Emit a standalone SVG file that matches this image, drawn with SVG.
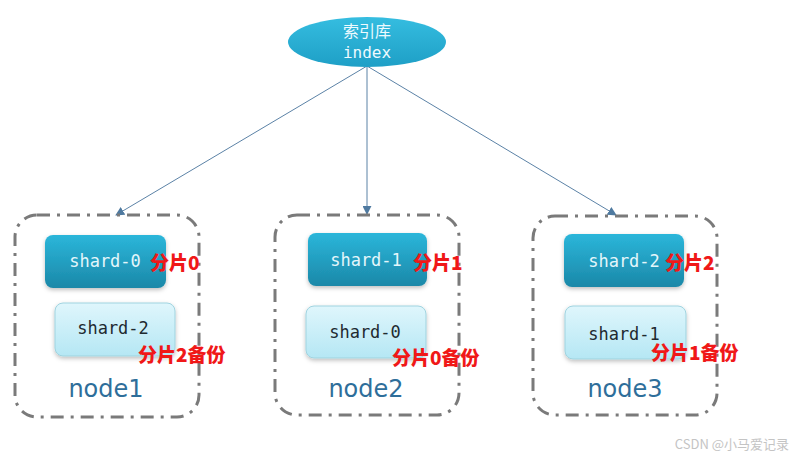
<svg xmlns="http://www.w3.org/2000/svg" width="798" height="458" viewBox="0 0 798 458">
<defs>
<linearGradient id="gEll" x1="0" y1="0" x2="0" y2="1"><stop offset="0" stop-color="#35bde0"/><stop offset="1" stop-color="#1e9fc6"/></linearGradient>
<linearGradient id="gDark" x1="0" y1="0" x2="0" y2="1"><stop offset="0" stop-color="#2bb6da"/><stop offset="1" stop-color="#1b88a8"/></linearGradient>
<linearGradient id="gLight" x1="0" y1="0" x2="0" y2="1"><stop offset="0" stop-color="#dff6fc"/><stop offset="1" stop-color="#b5e7f4"/></linearGradient>
<filter id="sh" x="-10%" y="-10%" width="130%" height="140%"><feDropShadow dx="0" dy="2" stdDeviation="2" flood-color="#000" flood-opacity="0.25"/></filter>
<marker id="ah" viewBox="0 0 10 10" refX="9" refY="5" markerWidth="9" markerHeight="9" orient="auto-start-reverse" markerUnits="userSpaceOnUse"><path d="M0,0 L10,5 L0,10 z" fill="#4f7aa0"/></marker>
</defs>
<style>
.box{fill:none;stroke:#7a7a7a;stroke-width:3;stroke-dasharray:13 7 3 7}
.dark{fill:url(#gDark);filter:url(#sh)}
.light{fill:url(#gLight);stroke:#9fd3df;stroke-width:1;filter:url(#sh)}
.mono{font-family:"DejaVu Sans Mono","Liberation Mono",monospace;font-size:17px;text-anchor:middle}
.dt{fill:#e4f6fb}
.lt{fill:#1e2a30}
.red{font-family:"Noto Sans CJK SC","Noto Sans",sans-serif;font-weight:900;font-size:19px;fill:#f01818}
.nl{font-family:"DejaVu Sans","Noto Sans",sans-serif;font-size:24px;fill:#2e6e9a;text-anchor:middle}
.conn{stroke:#5b82a6;stroke-width:1;fill:none}
</style>
<g id="connectors">
<line class="conn" x1="367" y1="66" x2="116" y2="215" marker-end="url(#ah)"/>
<line class="conn" x1="367" y1="67" x2="367" y2="214" marker-end="url(#ah)"/>
<line class="conn" x1="367" y1="66" x2="616" y2="215" marker-end="url(#ah)"/>
</g>
<g id="index">
<ellipse cx="367" cy="42" rx="79" ry="25" fill="url(#gEll)"/>
<text x="367" y="37" text-anchor="middle" font-family="Noto Sans CJK SC,sans-serif" font-size="16" fill="#eefaff">索引库</text>
<text x="367" y="58" text-anchor="middle" font-family="DejaVu Sans Mono,monospace" font-size="16" fill="#eefaff">index</text>
</g>
<g id="node1">
<rect class="box" x="15" y="215" width="184" height="202" rx="22"/>
<rect class="dark" x="45" y="235" width="121" height="53" rx="8"/>
<text class="mono dt" x="105" y="267">shard-0</text>
<rect class="light" x="55" y="303" width="120" height="53" rx="8"/>
<text class="mono lt" x="113" y="334">shard-2</text>
<text class="red" x="150" y="270">分片0</text>
<text class="red" x="138" y="362">分片2备份</text>
<text class="nl" x="106" y="397">node1</text>
</g>
<g id="node2">
<rect class="box" x="275" y="215" width="184" height="200" rx="22"/>
<rect class="dark" x="308" y="233" width="119" height="53" rx="8"/>
<text class="mono dt" x="366" y="266">shard-1</text>
<rect class="light" x="306" y="306" width="120" height="52" rx="8"/>
<text class="mono lt" x="365" y="338">shard-0</text>
<text class="red" x="413" y="270">分片1</text>
<text class="red" x="392" y="365">分片0备份</text>
<text class="nl" x="366" y="397">node2</text>
</g>
<g id="node3">
<rect class="box" x="533" y="216" width="184" height="199" rx="22"/>
<rect class="dark" x="564" y="234" width="120" height="53" rx="8"/>
<text class="mono dt" x="624" y="267">shard-2</text>
<rect class="light" x="565" y="306" width="121" height="53" rx="8"/>
<text class="mono lt" x="624" y="340">shard-1</text>
<text class="red" x="665" y="270">分片2</text>
<text class="red" x="651" y="360">分片1备份</text>
<text class="nl" x="625" y="397">node3</text>
</g>
<text x="789" y="449" text-anchor="end" font-family="Noto Sans CJK SC,sans-serif" font-size="13" fill="#c4c4c4">CSDN @小马爱记录</text>
</svg>
